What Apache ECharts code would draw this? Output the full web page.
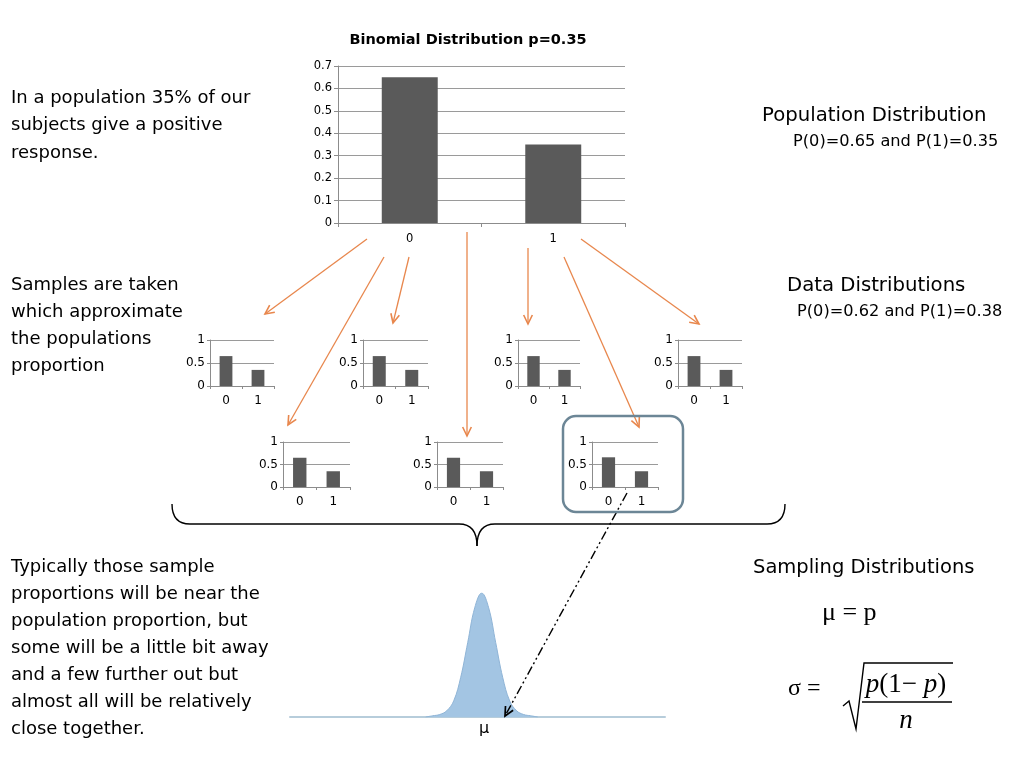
<!DOCTYPE html>
<html>
<head>
<meta charset="utf-8">
<script src="https://cdn.jsdelivr.net/npm/echarts@6/dist/echarts.min.js"></script>
<style>
html,body{margin:0;padding:0;background:#fff;}
#c{width:1024px;height:768px;}
</style>
</head>
<body>
<div id="c"></div>
<script>
// ---- data ----
const mainTitle = 'Binomial Distribution p=0.35';
const categories = ['0', '1'];
const populationValues = [0.65, 0.35];
const sample1 = [0.65, 0.35];
const sample2 = [0.65, 0.35];
const sample3 = [0.65, 0.35];
const sample4 = [0.65, 0.35];
const sample5 = [0.65, 0.35];
const sample6 = [0.65, 0.35];
const sample7 = [0.66, 0.35];
// sampling distribution curve (x in sd units, relative height)
const bellX = [-4, -3.5, -3, -2.5, -2, -1.5, -1, -0.5, 0, 0.5, 1, 1.5, 2, 2.5, 3, 3.5, 4];
const bellY = [0, 0.01, 0.02, 0.05, 0.13, 0.32, 0.6, 0.88, 1, 0.88, 0.6, 0.32, 0.13, 0.05, 0.02, 0.01, 0];

const samples = [sample1, sample2, sample3, sample4, sample5, sample6, sample7];

// ---- layout ----
const smallGrids = [
  {left: 210, top: 340, width: 64, height: 46},
  {left: 363, top: 340, width: 65, height: 46},
  {left: 518, top: 340, width: 62, height: 46},
  {left: 678, top: 340, width: 64, height: 46},
  {left: 283, top: 442, width: 67, height: 45},
  {left: 437, top: 442, width: 66, height: 45},
  {left: 592, top: 442, width: 66, height: 45}
];

const FONT = 'DejaVu Sans';
const grids = [{left: 338, top: 66, width: 287, height: 157}];
smallGrids.forEach(g => grids.push(g));
grids.push({left: 290, top: 593, width: 375, height: 124});

const xAxes = [{
  gridIndex: 0, type: 'category', data: categories,
  axisLine: {lineStyle: {color: '#8c8c8c'}},
  axisTick: {show: true, length: 4, lineStyle: {color: '#8c8c8c'}},
  axisLabel: {color: '#000', fontSize: 11.5, fontFamily: FONT, margin: 10}
}];
const yAxes = [{
  gridIndex: 0, type: 'value', min: 0, max: 0.7, interval: 0.1,
  axisLine: {show: true, lineStyle: {color: '#8c8c8c'}},
  axisTick: {show: true, length: 4, lineStyle: {color: '#8c8c8c'}},
  splitLine: {lineStyle: {color: '#9a9a9a'}},
  axisLabel: {color: '#000', fontSize: 11.5, fontFamily: FONT, margin: 6}
}];
const series = [{
  type: 'bar', xAxisIndex: 0, yAxisIndex: 0, data: populationValues,
  barWidth: '39%', itemStyle: {color: '#5a5a5a'}, silent: true
}];
samples.forEach((s, i) => {
  const gi = i + 1;
  xAxes.push({
    gridIndex: gi, type: 'category', data: categories,
    axisLine: {lineStyle: {color: '#8c8c8c'}},
    axisTick: {show: true, length: 3, lineStyle: {color: '#8c8c8c'}},
    axisLabel: {color: '#000', fontSize: 12, fontFamily: FONT, margin: 9}
  });
  yAxes.push({
    gridIndex: gi, type: 'value', min: 0, max: 1, interval: 0.5,
    axisLine: {show: true, lineStyle: {color: '#8c8c8c'}},
    axisTick: {show: true, length: 3, lineStyle: {color: '#8c8c8c'}},
    splitLine: {lineStyle: {color: '#9a9a9a'}},
    axisLabel: {color: '#000', fontSize: 12, fontFamily: FONT, margin: 5}
  });
  series.push({
    type: 'bar', xAxisIndex: gi, yAxisIndex: gi, data: s,
    barWidth: '40%', itemStyle: {color: '#5a5a5a'}, silent: true
  });
});
const bg = grids.length - 1;
xAxes.push({
  gridIndex: bg, type: 'value', min: -13.7, max: 13.1,
  axisLine: {show: true, onZero: false, lineStyle: {color: '#b7cddb', width: 2}},
  axisTick: {show: false}, axisLabel: {show: false}, splitLine: {show: false}
});
yAxes.push({gridIndex: bg, type: 'value', min: 0, max: 1, show: false});
series.push({
  type: 'line', xAxisIndex: bg, yAxisIndex: bg,
  data: bellX.map((x, i) => [x, bellY[i]]),
  smooth: 0.4, symbol: 'none', silent: true,
  lineStyle: {color: '#8fb4d6', width: 1},
  areaStyle: {color: '#a3c5e3', opacity: 1}
});

// ---- annotations ----
const graphics = [];
function text(x, y, str, size, opts) {
  graphics.push({
    type: 'text', x: x, y: y, silent: true, z: 100,
    style: Object.assign({
      text: str, fontSize: size, fontFamily: FONT, fill: '#000',
      textAlign: 'left', textVerticalAlign: 'middle'
    }, opts || {})
  });
}
function arrow(x1, y1, x2, y2, color, dash, width) {
  graphics.push({type: 'line', silent: true, z: 100,
    shape: {x1: x1, y1: y1, x2: x2, y2: y2},
    style: {stroke: color, lineWidth: width || 1.3, lineDash: dash || null}});
  const a = Math.atan2(y2 - y1, x2 - x1), L = 10, w = 0.45;
  graphics.push({type: 'polyline', silent: true, z: 100,
    shape: {points: [
      [x2 - L * Math.cos(a - w), y2 - L * Math.sin(a - w)],
      [x2, y2],
      [x2 - L * Math.cos(a + w), y2 - L * Math.sin(a + w)]
    ]},
    style: {stroke: color, lineWidth: (width || 1.3) + 0.3, fill: null}});
}
const OR = '#e8874d';
arrow(367, 239, 265, 314, OR);
arrow(384, 257, 288, 425, OR);
arrow(409, 257, 393, 323, OR);
arrow(467, 232, 467, 436, OR);
arrow(528, 248, 528, 324, OR);
arrow(564, 257, 639, 427, OR);
arrow(581, 239, 699, 324, OR);
arrow(627, 493, 505, 716, '#000', [9, 3, 2, 3, 2, 3], 1.4);

// rounded box
graphics.push({type: 'rect', silent: true, z: 100,
  shape: {x: 563, y: 416, width: 120, height: 96, r: 13},
  style: {stroke: '#6c8696', lineWidth: 2.5, fill: null}});
// brace
function quad(x1, y1, cx, cy, x2, y2) {
  graphics.push({type: 'bezierCurve', silent: true, z: 100,
    shape: {x1: x1, y1: y1, cpx1: cx, cpy1: cy, x2: x2, y2: y2},
    style: {stroke: '#000', lineWidth: 1.4, fill: null}});
}
function seg(x1, y1, x2, y2) {
  graphics.push({type: 'line', silent: true, z: 100,
    shape: {x1: x1, y1: y1, x2: x2, y2: y2},
    style: {stroke: '#000', lineWidth: 1.4}});
}
quad(172, 504, 172, 524, 190, 524);
seg(190, 524, 459, 524);
quad(459, 524, 477, 524, 477, 546);
quad(477, 546, 477, 524, 495, 524);
seg(495, 524, 767, 524);
quad(767, 524, 785, 524, 785, 504);

// title
text(468, 40, mainTitle, 14.5, {textAlign: 'center', fontWeight: 'bold'});

// left texts
const leftLines1 = ['In a population 35% of our', 'subjects give a positive', 'response.'];
const leftLines2 = ['Samples are taken', 'which approximate', 'the populations', 'proportion'];
const leftLines3 = ['Typically those sample', 'proportions will be near the', 'population proportion, but',
  'some will be a little bit away', 'and a few further out but', 'almost all will be relatively', 'close together.'];
leftLines1.forEach((s, i) => text(11, 98 + i * 27.5, s, 18));
leftLines2.forEach((s, i) => text(11, 285 + i * 27, s, 18));
leftLines3.forEach((s, i) => text(11, 567 + i * 27, s, 18));

// right texts
text(762, 116, 'Population Distribution', 19.7);
text(793, 142, 'P(0)=0.65 and P(1)=0.35', 16.2);
text(787, 286, 'Data Distributions', 19.7);
text(797, 312, 'P(0)=0.62 and P(1)=0.38', 16.2);
text(753, 568, 'Sampling Distributions', 19.5);

const SERIF = 'Liberation Serif';
text(822, 613, 'μ = p', 26, {fontFamily: SERIF});
text(788, 689, 'σ =', 24, {fontFamily: SERIF});
graphics.push({type: 'polyline', silent: true, z: 100,
  shape: {points: [[843, 706], [849, 701], [856, 729], [864, 663], [953, 663]]},
  style: {stroke: '#000', lineWidth: 1.4, fill: null}});
graphics.push({type: 'line', silent: true, z: 100,
  shape: {x1: 862, y1: 702, x2: 952, y2: 702},
  style: {stroke: '#000', lineWidth: 1.3}});
graphics.push({type: 'text', x: 906, y: 685, silent: true, z: 100,
  style: {text: '{i|p}(1− {i|p})', fontSize: 27, fontFamily: SERIF, fill: '#000',
    textAlign: 'center', textVerticalAlign: 'middle',
    rich: {i: {fontStyle: 'italic', fontSize: 27, fontFamily: SERIF}}}});
text(906, 721, 'n', 27, {fontFamily: SERIF, fontStyle: 'italic', textAlign: 'center'});
text(484, 729, 'μ', 16, {fontFamily: 'DejaVu Sans', textAlign: 'center'});

const chart = echarts.init(document.getElementById('c'));
chart.setOption({
  backgroundColor: '#fff',
  animation: false,
  grid: grids,
  xAxis: xAxes,
  yAxis: yAxes,
  series: series,
  graphic: graphics
});
</script>
</body>
</html>
